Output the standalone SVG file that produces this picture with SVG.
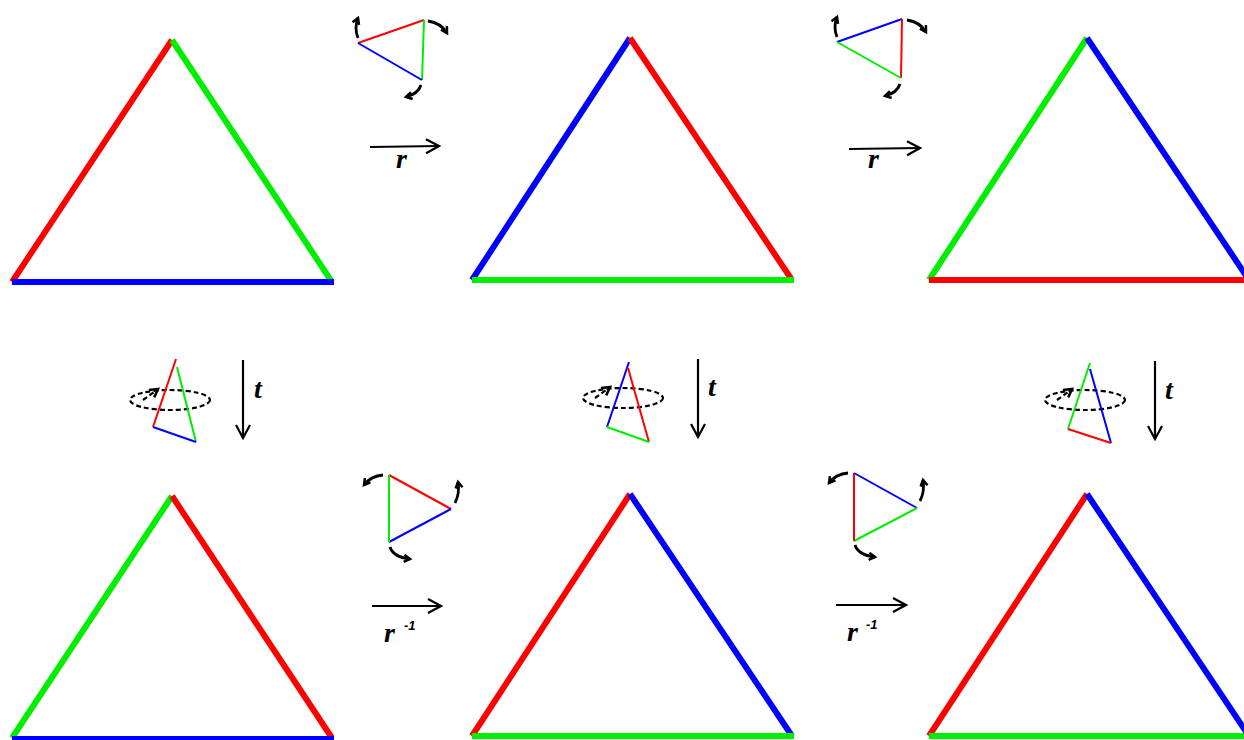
<svg xmlns="http://www.w3.org/2000/svg" width="1244" height="740" viewBox="0 0 1244 740">
<defs>
<style>
.big{stroke-width:6;stroke-linecap:butt;fill:none}
.sm{stroke-width:2;fill:none}
.r{stroke:#ff0000}.g{stroke:#00ee00}.b{stroke:#0000ff}
.ar{stroke:#000;stroke-width:2.2;fill:none}
.cv{stroke:#000;stroke-width:2.8;fill:none}
.dash{stroke:#000;stroke-width:2.2;fill:none;stroke-dasharray:5 3}
.lbl{font-family:"Liberation Serif",serif;font-weight:bold;font-style:italic;font-size:28px;fill:#000}
.sup{font-family:"Liberation Sans",sans-serif;font-weight:bold;font-style:italic;font-size:13px;fill:#000}
</style>
<marker id="ah" markerWidth="16" markerHeight="18" refX="14" refY="8" orient="auto" markerUnits="userSpaceOnUse">
<path d="M1,1 L14,8 L1,15" fill="none" stroke="#000" stroke-width="2.2"/>
</marker>
<marker id="sh" markerWidth="10" markerHeight="10" refX="7" refY="4.5" orient="auto" markerUnits="userSpaceOnUse">
<path d="M1,1 L7,4.5 L1,8" fill="none" stroke="#000" stroke-width="2.5"/>
</marker>
<marker id="dh" markerWidth="12" markerHeight="12" refX="9" refY="5.5" orient="auto" markerUnits="userSpaceOnUse">
<path d="M1,1 L9,5.5 L1,10" fill="none" stroke="#000" stroke-width="2.5"/>
</marker>
</defs>

<g id="tri-top-1">
<line class="big r" x1="12" y1="282" x2="172" y2="40"/>
<line class="big g" x1="172" y1="40" x2="332" y2="282"/>
<line class="big b" x1="12" y1="282" x2="334" y2="282"/>
</g>
<g id="tri-top-2">
<line class="big b" x1="472" y1="280" x2="630" y2="38"/>
<line class="big r" x1="630" y1="38" x2="792" y2="280"/>
<line class="big g" x1="472" y1="280" x2="794" y2="280"/>
</g>
<g id="tri-top-3">
<line class="big g" x1="929" y1="280" x2="1087" y2="38"/>
<line class="big b" x1="1087" y1="38" x2="1249" y2="280"/>
<line class="big r" x1="929" y1="280" x2="1251" y2="280"/>
</g>
<g id="tri-bot-1">
<line class="big g" x1="12" y1="738" x2="172" y2="496"/>
<line class="big r" x1="172" y1="496" x2="332" y2="738"/>
<line class="big b" x1="12" y1="739" x2="334" y2="739"/>
</g>
<g id="tri-bot-2">
<line class="big r" x1="472" y1="736" x2="630" y2="494"/>
<line class="big b" x1="630" y1="494" x2="792" y2="736"/>
<line class="big g" x1="472" y1="736" x2="794" y2="736"/>
</g>
<g id="tri-bot-3">
<line class="big r" x1="929" y1="736" x2="1087" y2="494"/>
<line class="big b" x1="1087" y1="494" x2="1249" y2="736"/>
<line class="big g" x1="929" y1="736" x2="1251" y2="736"/>
</g>

<g id="icon-r-1">
<line class="sm r" x1="358" y1="43" x2="424" y2="20"/>
<line class="sm g" x1="424" y1="20" x2="422" y2="80"/>
<line class="sm b" x1="422" y1="80" x2="358" y2="43"/>
<path class="cv" d="M358,38 Q354,28 358,18" marker-end="url(#sh)"/>
<path class="cv" d="M428,21 Q441,23 447,33" marker-end="url(#sh)"/>
<path class="cv" d="M421,85 Q418,94 406,97" marker-end="url(#sh)"/>
</g>
<g id="icon-r-2">
<line class="sm b" x1="837" y1="42" x2="902" y2="19"/>
<line class="sm r" x1="902" y1="19" x2="901" y2="78"/>
<line class="sm g" x1="901" y1="78" x2="837" y2="42"/>
<path class="cv" d="M837,37 Q833,27 837,17" marker-end="url(#sh)"/>
<path class="cv" d="M907,20 Q920,22 926,32" marker-end="url(#sh)"/>
<path class="cv" d="M900,84 Q897,93 885,96" marker-end="url(#sh)"/>
</g>

<g id="icon-t-1">
<ellipse class="dash" cx="170" cy="400" rx="40" ry="10"/>
<path class="dash" d="M143,400 L158,389" marker-end="url(#dh)"/>
<line class="sm r" x1="176" y1="359" x2="153" y2="427"/>
<line class="sm g" x1="177" y1="367" x2="196" y2="442"/>
<line class="sm b" x1="153" y1="427" x2="196" y2="442"/>
</g>
<g id="icon-t-2">
<ellipse class="dash" cx="623" cy="398" rx="40" ry="10"/>
<path class="dash" d="M595,398 L610,387" marker-end="url(#dh)"/>
<line class="sm b" x1="629" y1="362" x2="607" y2="427"/>
<line class="sm r" x1="628" y1="368" x2="649" y2="442"/>
<line class="sm g" x1="607" y1="427" x2="649" y2="442"/>
</g>
<g id="icon-t-3">
<ellipse class="dash" cx="1085" cy="400" rx="40" ry="10"/>
<path class="dash" d="M1057,400 L1072,389" marker-end="url(#dh)"/>
<line class="sm g" x1="1090" y1="363" x2="1068" y2="429"/>
<line class="sm b" x1="1090" y1="369" x2="1111" y2="443"/>
<line class="sm r" x1="1068" y1="429" x2="1111" y2="443"/>
</g>

<g id="icon-rinv-1">
<line class="sm r" x1="389" y1="475" x2="451" y2="509"/>
<line class="sm b" x1="451" y1="509" x2="389" y2="542"/>
<line class="sm g" x1="389" y1="542" x2="389" y2="475"/>
<path class="cv" d="M383,475 Q371,476 364,485" marker-end="url(#sh)"/>
<path class="cv" d="M455,503 Q460,493 458,482" marker-end="url(#sh)"/>
<path class="cv" d="M390,547 Q393,557 410,559" marker-end="url(#sh)"/>
</g>
<g id="icon-rinv-2">
<line class="sm b" x1="854" y1="473" x2="917" y2="508"/>
<line class="sm g" x1="917" y1="508" x2="854" y2="541"/>
<line class="sm r" x1="854" y1="541" x2="854" y2="473"/>
<path class="cv" d="M848,473 Q836,474 829,483" marker-end="url(#sh)"/>
<path class="cv" d="M920,501 Q925,491 923,480" marker-end="url(#sh)"/>
<path class="cv" d="M855,545 Q858,555 875,557" marker-end="url(#sh)"/>
</g>

<g id="connectors">
<line class="ar" x1="370" y1="147" x2="439" y2="146" marker-end="url(#ah)"/>
<line class="ar" x1="849" y1="149" x2="920" y2="148" marker-end="url(#ah)"/>
<line class="ar" x1="243" y1="360" x2="243" y2="438" marker-end="url(#ah)"/>
<line class="ar" x1="698" y1="359" x2="698" y2="437" marker-end="url(#ah)"/>
<line class="ar" x1="1155" y1="361" x2="1155" y2="439" marker-end="url(#ah)"/>
<line class="ar" x1="372" y1="606" x2="441" y2="606" marker-end="url(#ah)"/>
<line class="ar" x1="836" y1="605" x2="906" y2="605" marker-end="url(#ah)"/>
</g>

<g id="labels">
<text class="lbl" x="396" y="168">r</text>
<text class="lbl" x="868" y="168">r</text>
<text class="lbl" x="254" y="398">t</text>
<text class="lbl" x="708" y="396">t</text>
<text class="lbl" x="1165" y="399">t</text>
<text class="lbl" x="384" y="642">r</text>
<text class="sup" x="404" y="630">-1</text>
<text class="lbl" x="847" y="641">r</text>
<text class="sup" x="866" y="629">-1</text>
</g>
</svg>
